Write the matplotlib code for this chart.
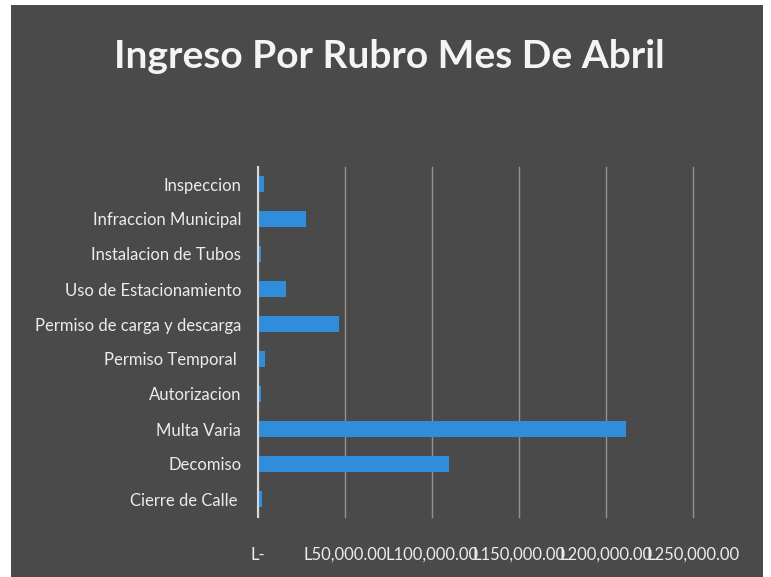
import matplotlib
matplotlib.use("Agg")
import matplotlib.pyplot as plt
from matplotlib.patches import Rectangle
from matplotlib.ticker import FixedLocator, FixedFormatter

categories = ["Cierre de Calle ", "Decomiso", "Multa Varia", "Autorizacion",
              "Permiso Temporal ", "Permiso de carga y descarga",
              "Uso de Estacionamiento", "Instalacion de Tubos",
              "Infraccion Municipal", "Inspeccion"]
values = [2500, 109600, 211300, 1900, 3800, 46400, 16300, 1500, 27800, 3300]
tick_values = [0, 50000, 100000, 150000, 200000, 250000]
tick_labels = ["L-", "L50,000.00", "L100,000.00", "L150,000.00",
               "L200,000.00", "L250,000.00"]
title = "Ingreso Por Rubro Mes De Abril"

W, H = 771, 577
fig = plt.figure(figsize=(W / 100, H / 100), dpi=100, facecolor="white")
bg = "#4a4a4a"
fig.patches.append(Rectangle((11 / W, 0), (763 - 11) / W, 1 - 5 / H,
                             transform=fig.transFigure, facecolor=bg,
                             edgecolor="none", zorder=-10))

ax = fig.add_axes([258 / W, 1 - 516.5 / H, (693 - 258) / W, (516.5 - 166.5) / H])
ax.set_zorder(2)
ax.set_facecolor("none")
ypos = list(range(len(categories)))
ax.barh(ypos, values, height=0.48, color="#2f8ddc", zorder=3)
ax.set_xlim(0, 250000)
ax.set_ylim(-0.5, len(categories) - 0.5)
ax.xaxis.set_major_locator(FixedLocator(tick_values))
ax.xaxis.set_major_formatter(FixedFormatter(tick_labels))
ax.set_yticks(ypos)
ax.set_yticklabels(categories)
ax.grid(axis="x", color="#929292", linewidth=1.0, zorder=1)
for gl in ax.get_xgridlines():
    gl.set_clip_on(False)
for s in ["top", "right", "bottom"]:
    ax.spines[s].set_visible(False)
ax.spines["left"].set_color("#d8d8d8")
ax.spines["left"].set_linewidth(1.5)
ax.spines["left"].set_zorder(4)
ax.tick_params(axis="both", length=0, labelcolor="#ececec", labelsize=12)
ax.tick_params(axis="y", pad=12)
ax.tick_params(axis="x", pad=22)
for lbl in ax.get_xticklabels() + ax.get_yticklabels():
    lbl.set_family("Lato")

fig.text(389 / W, 1 - 57 / H, title, ha="center", va="center",
         fontsize=28, fontweight="bold", color="#f4f4f4", family="Lato",
         zorder=5)

fig.savefig("out.png", dpi=100, facecolor="white")
